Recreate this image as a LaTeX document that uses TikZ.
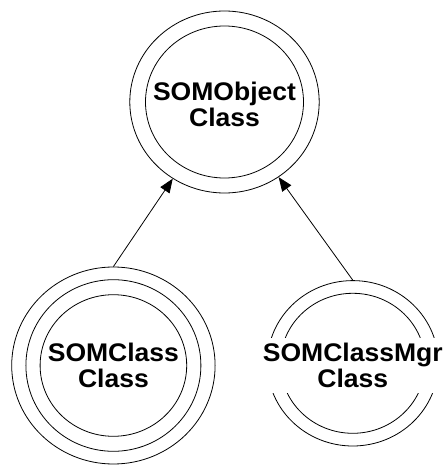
\documentclass[tikz,border=0pt]{standalone}
\usepackage{fontspec}
\setmainfont{Liberation Sans}
\usetikzlibrary{shapes.geometric,arrows.meta}
\begin{document}
\begin{tikzpicture}[x=1pt,y=1pt,
  ring/.style={draw, ellipse, inner sep=0pt, line width=0.8pt},
  classtext/.style={align=center, font=\fontsize{25.5}{26.7}\selectfont\bfseries, xscale=1.04, transform shape, inner sep=0pt},
  inherit/.style={-{Triangle[length=14pt,width=11pt]}, line width=0.8pt}]
\useasboundingbox (0,0) rectangle (446,467);
% SOMObject
\node[ring, minimum width=189.4pt, minimum height=182pt] (objO) at (224.5,365) {};
\node[ring, minimum width=158pt, minimum height=152pt] (objI) at (224.5,365) {};
\node[classtext] (objT) at (224.5,362.5) {SOMObject\\Class};
% SOMClass
\node[ring, minimum width=203.4pt, minimum height=197pt] (clsO) at (113.4,101.5) {};
\node[ring, minimum width=175pt, minimum height=171.6pt] (clsM) at (113.4,101.5) {};
\node[ring, minimum width=146.6pt, minimum height=141.6pt] (clsI) at (113.4,101.5) {};
\node[classtext] (clsT) at (113.4,101.5) {SOMClass\\Class};
% SOMClassMgr
\node[ring, minimum width=171pt, minimum height=165.4pt] (mgrO) at (352.8,103.7) {};
\node[ring, minimum width=144.8pt, minimum height=140pt] (mgrI) at (352.8,103.7) {};
\node[classtext, fill=white, inner ysep=5pt, inner xsep=1pt] (mgrT) at (352.8,101.7) {SOMClassMgr\\Class};
% connectors
\draw[inherit] (clsO.north) -- (objO);
\draw[inherit] (mgrO.north) -- (objO);
\end{tikzpicture}
\end{document}
